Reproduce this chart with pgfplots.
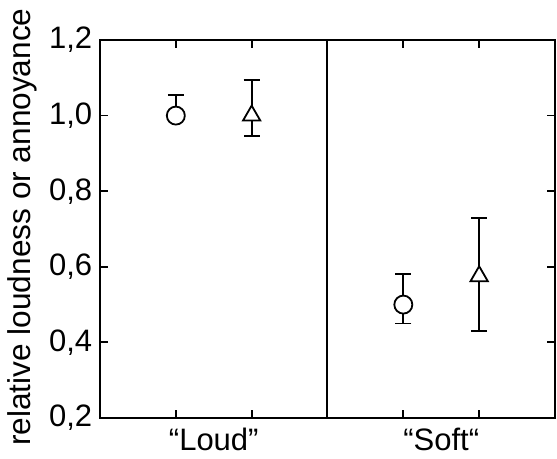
\documentclass[border=0pt]{standalone}
\usepackage{fontspec}
\setmainfont{Liberation Sans}
\usepackage{pgfplots}
\pgfplotsset{compat=1.18}

\begin{document}
\begin{tikzpicture}
\begin{axis}[
    at={(0,0)}, anchor=south west,
    scale only axis,
    width=227.5pt, height=189pt,
    xmin=0, xmax=6, ymin=0.2, ymax=1.2,
    line width=1.2pt,
    every tick/.style={black, line width=0.9pt},
    major tick length=4pt,
    xtick={1,2,4,5}, xticklabels={},
    extra x ticks={1.5,4.5},
    extra x tick labels={“Loud”,“Soft“},
    extra x tick style={major tick length=0pt},
    ytick={0.2,0.4,0.6,0.8,1.0,1.2},
    yticklabel style={/pgf/number format/.cd, fixed, fixed zerofill, precision=1, use comma, assume math mode=true},
    ticklabel style={font=\fontsize{15.5}{17}\selectfont},
    xticklabel style={yshift=-1pt},
    ylabel={relative loudness or annoyance},
    every axis y label/.style={at={(axis description cs:-0.171,0.505)}, rotate=90, anchor=center,
        font=\fontsize{15.8}{18}\selectfont},
    clip=false,
]
\addplot[black, line width=1pt] coordinates {(3,0.2) (3,1.2)};

\addplot[only marks, mark=*, mark size=4.5pt,
    mark options={fill=white, draw=black, line width=0.9pt},
    error bars/.cd, y dir=both, y explicit,
    error bar style={black, line width=0.9pt},
    error mark options={rotate=90, mark size=4pt, line width=0.9pt}]
  coordinates {
    (1,1.0) += (0,0.055) -= (0,0)
    (4,0.50) += (0,0.08) -= (0,0.05)
  };

\addplot[only marks, mark=triangle*, mark size=5pt,
    mark options={fill=white, draw=black, line width=0.9pt},
    error bars/.cd, y dir=both, y explicit,
    error bar style={black, line width=0.9pt},
    error mark options={rotate=90, mark size=4pt, line width=0.9pt}]
  coordinates {
    (2,1.0) += (0,0.095) -= (0,0.055)
    (5,0.575) += (0,0.155) -= (0,0.145)
  };
\end{axis}
\pgfresetboundingbox
\path (-50pt,-20.5pt) rectangle (228.5pt,209pt);
\end{tikzpicture}
\end{document}
